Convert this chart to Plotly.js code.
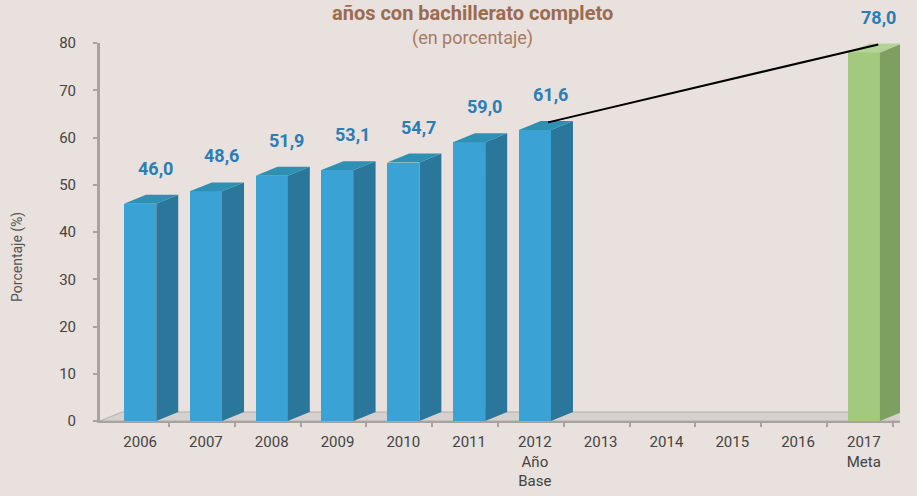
<!DOCTYPE html>
<html>
<head>
<meta charset="utf-8">
<script src="https://cdn.plot.ly/plotly-3.0.1.min.js"></script>
<style>
html,body{margin:0;padding:0;background:#e8e1dd;}
#chart{width:917px;height:496px;}
</style>
</head>
<body>
<div id="chart"></div>
<script>
// ---- data ----
const years = ['2006','2007','2008','2009','2010','2011','2012','2013','2014','2015','2016','2017'];
const tickLabels = ['2006','2007','2008','2009','2010','2011','2012<br>Año<br>Base','2013','2014','2015','2016','2017<br>Meta'];
const histYears = ['2006','2007','2008','2009','2010','2011','2012'];
const histValues = [46.0, 48.6, 51.9, 53.1, 54.7, 59.0, 61.6];
const metaYears = ['2017'];
const metaValues = [78.0];
const valueLabelsHist = ['46,0','48,6','51,9','53,1','54,7','59,0','61,6'];
const valueLabelsMeta = ['78,0'];

// ---- geometry/style (not data) ----
const FONT = 'Roboto, "Liberation Sans", Arial, sans-serif';
const W = 0.49;      // front face width (category units)
const DX = 0.334;    // depth offset x
const DY = 1.9;      // depth offset y
const XMIN = -0.61, XMAX = 11.55;

const idx = y => years.indexOf(y);

function sidePoly(xs, vs) {
  const px = [], py = [];
  xs.forEach((x, i) => {
    const v = vs[i], r = x + W/2;
    px.push(r, r + DX, r + DX, r, r, null);
    py.push(0, DY, v + DY, v, 0, null);
  });
  return {x: px, y: py};
}
function topPoly(xs, vs) {
  const px = [], py = [];
  xs.forEach((x, i) => {
    const v = vs[i], l = x - W/2, r = x + W/2;
    px.push(l, r, r + DX, l + DX, l, null);
    py.push(v, v, v + DY, v + DY, v, null);
  });
  return {x: px, y: py};
}

const hx = histYears.map(idx);
const mx = metaYears.map(idx);

const traces = [];
// historical bars (front faces)
traces.push({
  type:'bar', x:hx, y:histValues, width:W,
  marker:{color:'#3ba2d6', line:{width:0}}, hoverinfo:'y', showlegend:false
});
const hs = sidePoly(hx, histValues), ht = topPoly(hx, histValues);
traces.push({type:'scatter', mode:'lines', x:hs.x, y:hs.y, fill:'toself', fillcolor:'#2b769b', line:{width:0, color:'#2b769b'}, hoverinfo:'skip', showlegend:false, cliponaxis:false});
traces.push({type:'scatter', mode:'lines', x:ht.x, y:ht.y, fill:'toself', fillcolor:'#2e90b2', line:{width:0, color:'#2e90b2'}, hoverinfo:'skip', showlegend:false, cliponaxis:false});
// meta bar
traces.push({
  type:'bar', x:mx, y:metaValues, width:W,
  marker:{color:'#a2c97e', line:{width:0}}, hoverinfo:'y', showlegend:false
});
const ms = sidePoly(mx, metaValues), mt = topPoly(mx, metaValues);
traces.push({type:'scatter', mode:'lines', x:ms.x, y:ms.y, fill:'toself', fillcolor:'#7d9f60', line:{width:0, color:'#7d9f60'}, hoverinfo:'skip', showlegend:false, cliponaxis:false});
traces.push({type:'scatter', mode:'lines', x:mt.x, y:mt.y, fill:'toself', fillcolor:'#b4d398', line:{width:0, color:'#b4d398'}, hoverinfo:'skip', showlegend:false, cliponaxis:false});
// connecting line from base year to meta
const lastI = hx.length - 1;
traces.push({
  type:'scatter', mode:'lines',
  x:[hx[lastI] + 0.2, mx[0] + 0.22],
  y:[histValues[lastI] + 1.6, metaValues[0] + 1.7],
  line:{color:'#000000', width:2}, hoverinfo:'skip', showlegend:false, cliponaxis:false
});
// dummy trace for tick axis
traces.push({type:'scatter', mode:'markers', x:[0], y:[0], xaxis:'x2', marker:{opacity:0}, hoverinfo:'skip', showlegend:false});

const annotations = [];
hx.forEach((x, i) => annotations.push({
  x: x + 0.23, y: histValues[i] + DY, xref:'x', yref:'y', text: valueLabelsHist[i],
  showarrow:false, yanchor:'bottom', yshift:14,
  font:{family:FONT, size:18, color:'#2b7db5', weight:'bold'}
}));
mx.forEach((x, i) => annotations.push({
  x: x + 0.23, y: metaValues[i] + DY, xref:'x', yref:'y', text: valueLabelsMeta[i],
  showarrow:false, yanchor:'bottom', yshift:13,
  font:{family:FONT, size:18, color:'#2b7db5', weight:'bold'}
}));
annotations.push({
  x:0.465, y:1.0794, xref:'paper', yref:'paper', xanchor:'center', text:'<b>años con bachillerato completo</b>',
  showarrow:false, yanchor:'middle', font:{family:FONT, size:20, color:'#9b6b52'}
});
annotations.push({
  x:0.465, y:1.0132, xref:'paper', yref:'paper', xanchor:'center', text:'(en porcentaje)',
  showarrow:false, yanchor:'middle', font:{family:FONT, size:18, color:'#a87a62'}
});
annotations.push({
  x:-0.1025, y:0.434, xref:'paper', yref:'paper', xanchor:'center', yanchor:'middle', text:'Porcentaje (%)', textangle:-90,
  showarrow:false, font:{family:FONT, size:14, color:'#555555'}
});

const layout = {
  width:917, height:496,
  margin:{l:100, r:17, t:43, b:75},
  paper_bgcolor:'#e8e1dd', plot_bgcolor:'#e8e1dd',
  showlegend:false,
  bargap:0,
  shapes:[{
    type:'path', xref:'x', yref:'y', layer:'below',
    path:`M ${XMIN} 0 L ${XMAX} 0 L ${XMAX + DX} ${DY} L ${XMIN + DX} ${DY} Z`,
    fillcolor:'#d6d1ce', line:{color:'#b3aeab', width:1}
  }],
  xaxis:{
    range:[XMIN, XMAX], tickvals: years.map((y,i)=>i), ticktext: tickLabels,
    showgrid:false, zeroline:false, showline:false, ticks:'', ticklabelstandoff:10,
    tickfont:{family:FONT, size:15, color:'#444444'}, fixedrange:true
  },
  xaxis2:{
    overlaying:'x', range:[XMIN, XMAX], side:'bottom',
    tickvals: years.map((y,i)=>i + 0.44), showticklabels:false,
    ticks:'outside', ticklen:4, tickwidth:2, tickcolor:'#a8a3a0',
    showgrid:false, zeroline:false, showline:true, linecolor:'#a8a3a0', linewidth:2
  },
  yaxis:{
    range:[0,80], tickvals:[0,10,20,30,40,50,60,70,80],
    showgrid:false, zeroline:false, showline:true, linecolor:'#a8a3a0', linewidth:3,
    ticks:'outside', ticklen:4, tickwidth:2, tickcolor:'#a8a3a0', ticklabelstandoff:14,
    tickfont:{family:FONT, size:15, color:'#444444'}
  },
  annotations: annotations
};

Plotly.newPlot('chart', traces, layout, {displayModeBar:false, staticPlot:true});
</script>
</body>
</html>
